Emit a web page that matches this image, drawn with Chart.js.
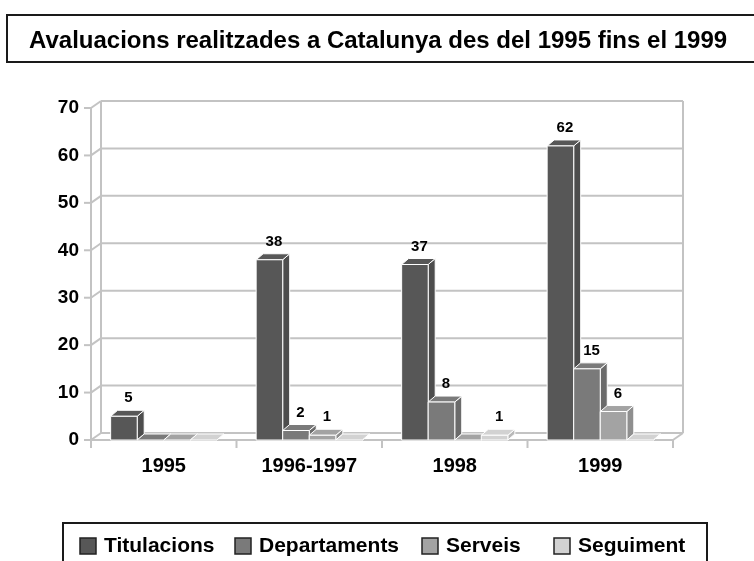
<!DOCTYPE html>
<html lang="ca">
<head>
<meta charset="utf-8">
<title>Avaluacions realitzades a Catalunya</title>
<script src="https://cdn.jsdelivr.net/npm/chart.js@4.4.1/dist/chart.umd.min.js"></script>
<style>
  html, body { margin: 0; padding: 0; background: #fff; }
  canvas { display: block; }
</style>
</head>
<body>
<canvas id="chart" width="754" height="561"></canvas>
<script>
const TITLE = 'Avaluacions realitzades a Catalunya des del 1995 fins el 1999';
const YEARS = ['1995', '1996-1997', '1998', '1999'];
const SERIES = ['Titulacions', 'Departaments', 'Serveis', 'Seguiment'];
const TITULACIONS = [5, 38, 37, 62];
const DEPARTAMENTS = [0, 2, 8, 15];
const SERVEIS = [0, 1, 0, 6];
const SEGUIMENT = [0, 0, 1, 0];
const Y_TICKS = [0, 10, 20, 30, 40, 50, 60, 70];

const COLORS = ['#575757', '#7a7a7a', '#a3a3a3', '#d2d2d2'];
const FONT = '"Liberation Sans", Arial, sans-serif';
const WALL = { dx: 10, dy: -7 };   // depth of the back wall
const BAR = { dx: 7, dy: -6 };     // depth of each bar
const GRID = '#c3c3c3';
const LEGEND_X = [80, 235, 422, 554];

function shade(hex, f) {
  const n = parseInt(hex.slice(1), 16);
  const ch = s => Math.max(0, Math.min(255, Math.round(((n >> s) & 255) * f)));
  return `rgb(${ch(16)},${ch(8)},${ch(0)})`;
}

function poly(ctx, pts, fill) {
  ctx.beginPath();
  ctx.moveTo(pts[0][0], pts[0][1]);
  pts.slice(1).forEach(p => ctx.lineTo(p[0], p[1]));
  ctx.closePath();
  ctx.fillStyle = fill;
  ctx.fill();
  ctx.stroke();
}

// floor, walls and gridlines in fake perspective
const wallPlugin = {
  id: 'wall',
  beforeDatasetsDraw(chart) {
    const { ctx, chartArea: a, scales: { y } } = chart;
    const line = (x1, y1, x2, y2) => {
      ctx.beginPath(); ctx.moveTo(x1, y1); ctx.lineTo(x2, y2); ctx.stroke();
    };
    ctx.save();
    ctx.strokeStyle = GRID;
    ctx.lineWidth = 2;
    y.ticks.forEach(t => {
      const py = y.getPixelForValue(t.value);
      line(a.left - 7, py, a.left, py);
      line(a.left, py, a.left + WALL.dx, py + WALL.dy);
      line(a.left + WALL.dx, py + WALL.dy, a.right + WALL.dx, py + WALL.dy);
    });
    line(a.left, a.top, a.left, a.bottom);
    line(a.left + WALL.dx, a.top + WALL.dy, a.left + WALL.dx, a.bottom + WALL.dy);
    line(a.right + WALL.dx, a.top + WALL.dy, a.right + WALL.dx, a.bottom + WALL.dy);
    line(a.left, a.bottom, a.right, a.bottom);
    line(a.right, a.bottom, a.right + WALL.dx, a.bottom + WALL.dy);
    const step = (a.right - a.left) / YEARS.length;
    for (let i = 0; i <= YEARS.length; i++) {
      const px = a.left + i * step;
      line(px, a.bottom, px, a.bottom + 8);
    }
    ctx.restore();
  },
  beforeDatasetDraw() {
    return false; // bars are drawn as boxes below
  },
  afterDatasetsDraw(chart) {
    const { ctx } = chart;
    const sets = chart.data.datasets;
    ctx.save();
    ctx.lineWidth = 1;
    ctx.strokeStyle = '#ffffff';
    YEARS.forEach((_, j) => {
      sets.forEach((ds, i) => {
        const { x, y: top, base, width } = chart.getDatasetMeta(i).data[j].getProps(['x', 'y', 'base', 'width'], true);
        const x0 = x - width / 2, x1 = x + width / 2;
        const c = ds.backgroundColor;
        poly(ctx, [[x1, top], [x1 + BAR.dx, top + BAR.dy], [x1 + BAR.dx, base + BAR.dy], [x1, base]], shade(c, 0.88));
        poly(ctx, [[x0, top], [x1, top], [x1 + BAR.dx, top + BAR.dy], [x0 + BAR.dx, top + BAR.dy]], shade(c, 1.0));
        if (base - top > 0.5) poly(ctx, [[x0, top], [x1, top], [x1, base], [x0, base]], c);
      });
    });
    ctx.fillStyle = '#000';
    ctx.font = `bold 15px ${FONT}`;
    ctx.textAlign = 'center';
    ctx.textBaseline = 'middle';
    sets.forEach((ds, i) => {
      chart.getDatasetMeta(i).data.forEach((bar, j) => {
        const v = ds.data[j];
        if (!v) return;
        ctx.fillText(String(v), bar.x + BAR.dx / 2 + 1, bar.y + BAR.dy - 12);
      });
    });
    ctx.restore();
  },
  afterDraw(chart) {
    const { ctx } = chart;
    ctx.save();
    ctx.strokeStyle = '#1a1a1a';
    ctx.lineWidth = 2;
    ctx.strokeRect(7, 15, 800, 47);
    ctx.fillStyle = '#000';
    ctx.font = `bold 24px ${FONT}`;
    ctx.textBaseline = 'alphabetic';
    ctx.fillText(TITLE, 29, 48);

    ctx.strokeRect(63, 523, 644, 100);
    ctx.font = `bold 21px ${FONT}`;
    ctx.textBaseline = 'middle';
    chart.data.datasets.forEach((ds, i) => {
      const lx = LEGEND_X[i];
      ctx.fillStyle = ds.backgroundColor;
      ctx.fillRect(lx, 538, 16, 16);
      ctx.lineWidth = 1.5;
      ctx.strokeStyle = '#222';
      ctx.strokeRect(lx, 538, 16, 16);
      ctx.fillStyle = '#000';
      ctx.fillText(ds.label, lx + 24, 546);
    });
    ctx.restore();
  }
};

const whiteBg = {
  id: 'whiteBg',
  beforeDraw(chart) {
    const { ctx, width, height } = chart;
    ctx.save();
    ctx.fillStyle = '#fff';
    ctx.fillRect(0, 0, width, height);
    ctx.restore();
  }
};

const values = [TITULACIONS, DEPARTAMENTS, SERVEIS, SEGUIMENT];

new Chart(document.getElementById('chart'), {
  type: 'bar',
  data: {
    labels: YEARS,
    datasets: SERIES.map((name, i) => ({
      label: name,
      data: values[i],
      backgroundColor: COLORS[i],
      categoryPercentage: 0.73,
      barPercentage: 1.0
    }))
  },
  options: {
    responsive: false,
    animation: false,
    layout: { padding: { top: 108, right: 81, bottom: 0, left: 0 } },
    plugins: {
      legend: { display: false },
      title: { display: false },
      tooltip: { enabled: false }
    },
    scales: {
      x: {
        grid: { display: false, drawTicks: false, tickLength: 0 },
        border: { display: false },
        ticks: { color: '#000', font: { family: FONT, size: 20, weight: 'bold' }, padding: 14, maxRotation: 0 },
        afterFit: s => { s.height = 121; }
      },
      y: {
        min: 0,
        max: 70,
        grid: { display: false, drawTicks: false, tickLength: 0 },
        border: { display: false },
        ticks: { color: '#000', font: { family: FONT, size: 19, weight: 'bold' }, padding: 12 },
        afterBuildTicks: s => { s.ticks = Y_TICKS.map(v => ({ value: v })); },
        afterFit: s => { s.width = 91; }
      }
    }
  },
  plugins: [whiteBg, wallPlugin]
});
</script>
</body>
</html>
